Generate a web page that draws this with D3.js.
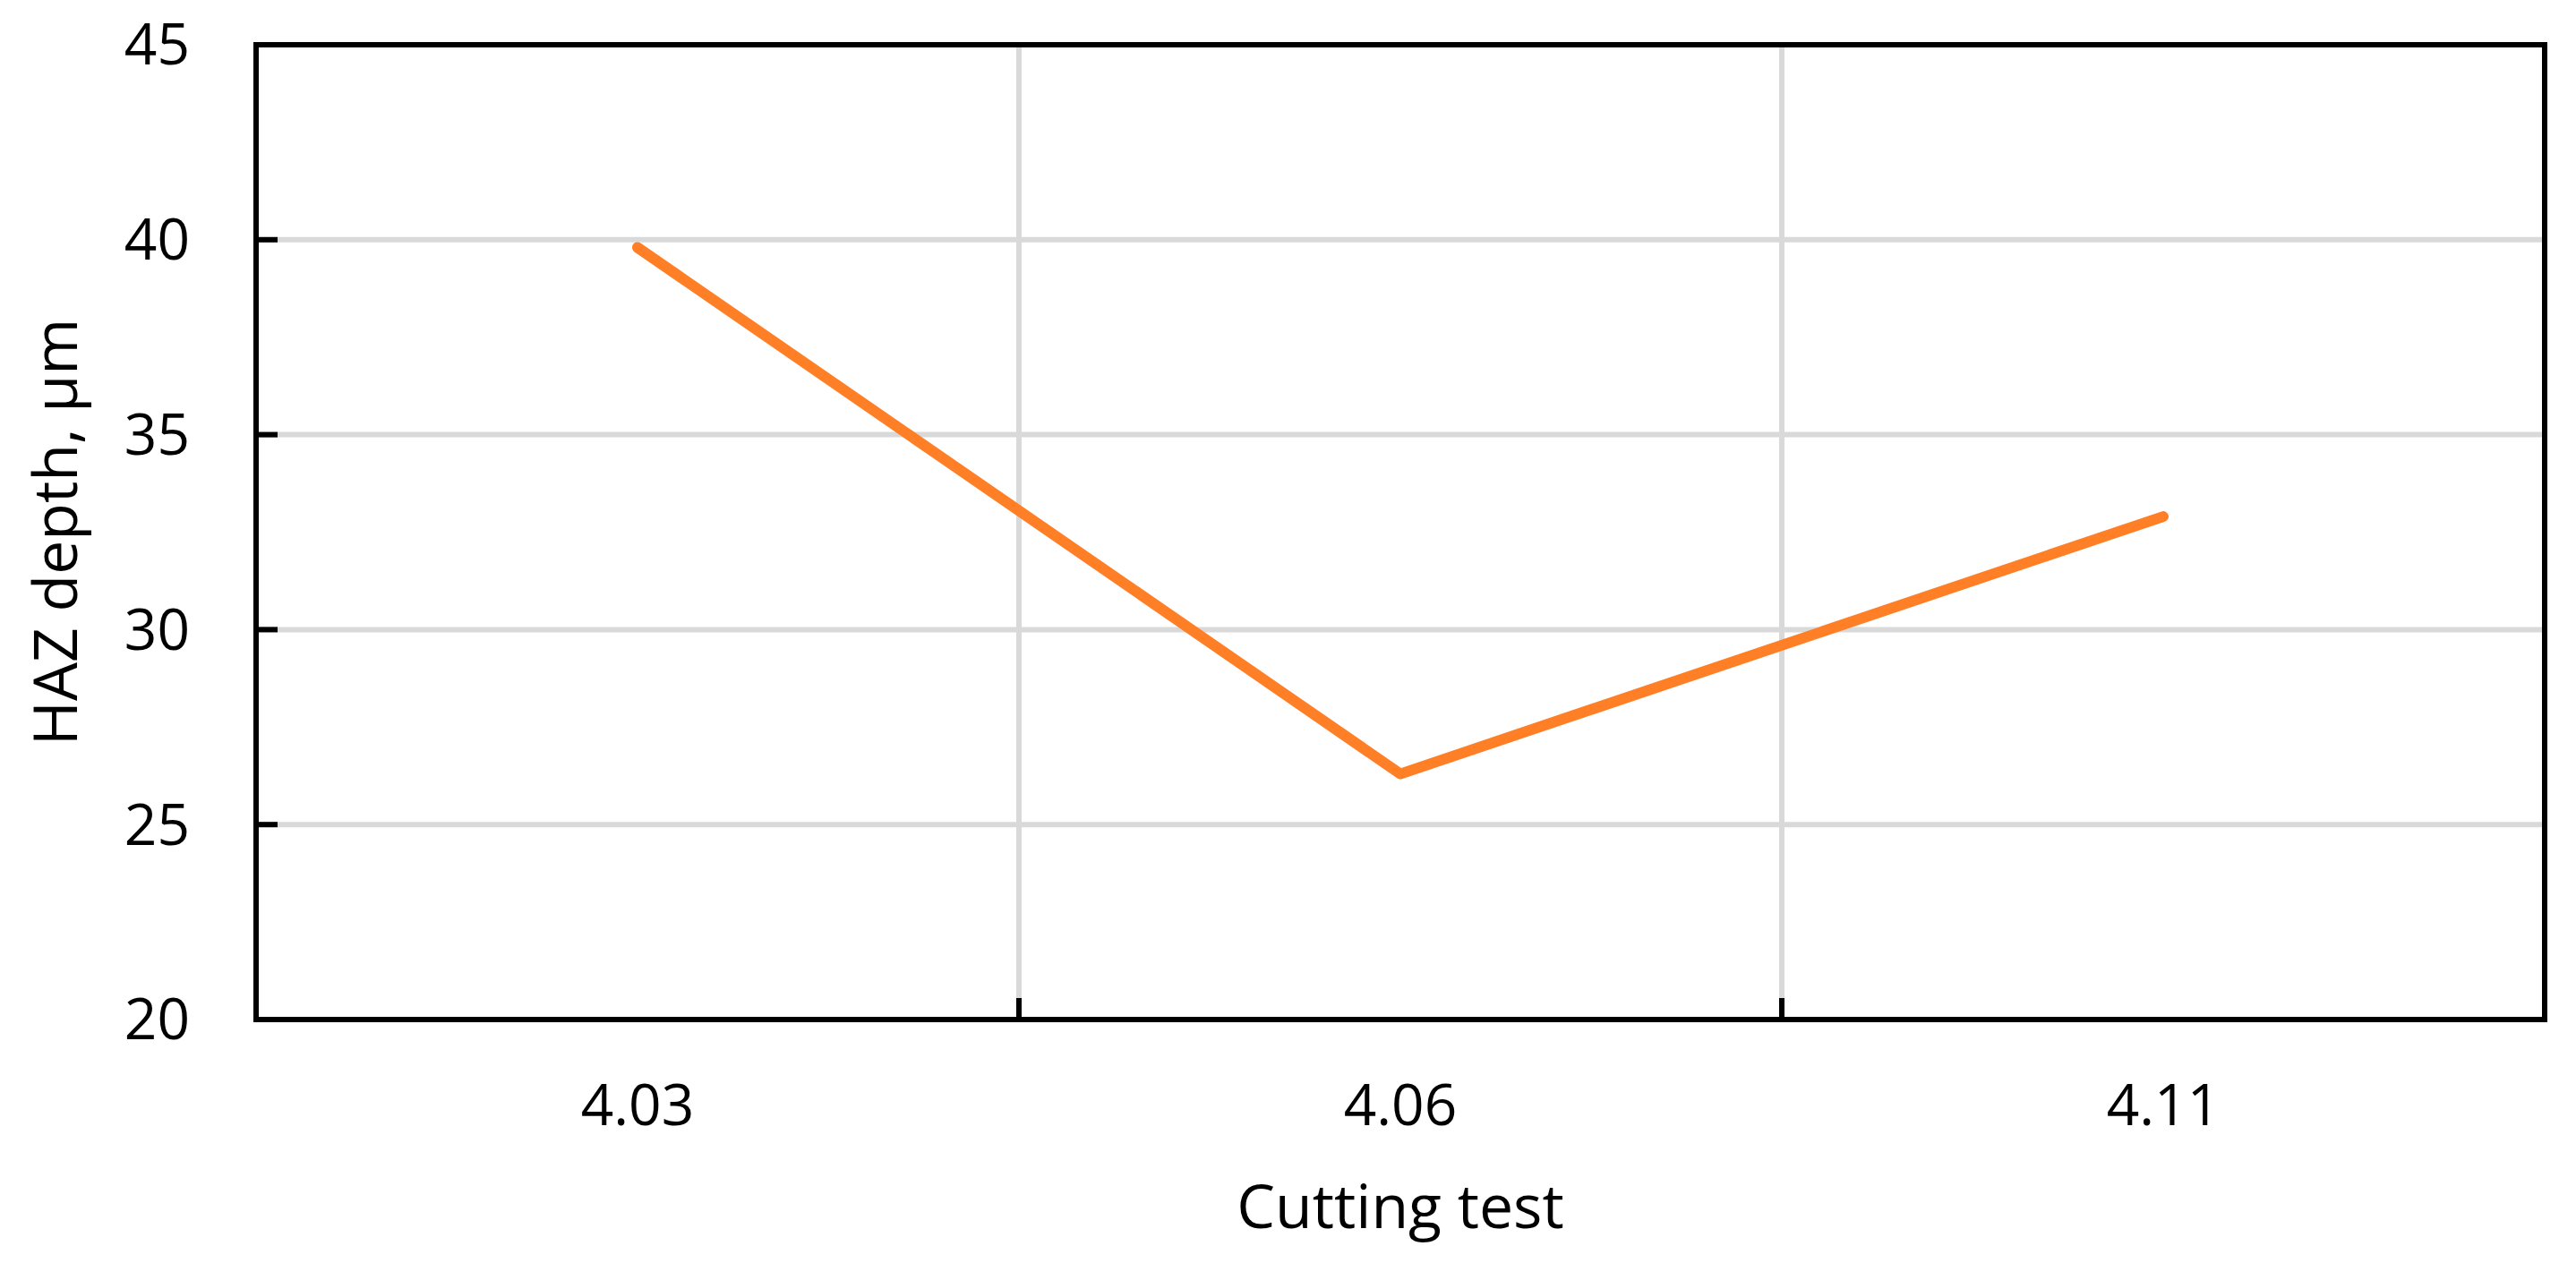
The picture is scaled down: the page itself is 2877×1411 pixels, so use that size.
<!DOCTYPE html>
<html>
<head>
<meta charset="utf-8">
<script src="https://cdn.jsdelivr.net/npm/d3@7"></script>
<style>
  body { margin: 0; background: #fff; }
  text { font-family: "Liberation Sans Narrow", "Open Sans", sans-serif; fill: #000; }
</style>
</head>
<body>
<div id="chart"></div>
<script>
const categories = ["4.03", "4.06", "4.11"];
const hazDepth = [39.8, 26.3, 32.9];
const yTicks = [20, 25, 30, 35, 40, 45];

const W = 2877, H = 1411;
const margin = { top: 50, right: 35, bottom: 272, left: 286 };
const width = W - margin.left - margin.right;
const height = H - margin.top - margin.bottom;

const svg = d3.select("#chart").append("svg")
  .attr("width", W).attr("height", H);
const g = svg.append("g")
  .attr("transform", `translate(${margin.left},${margin.top})`);

const x = d3.scaleBand().domain(categories).range([0, width]);
const y = d3.scaleLinear().domain([20, 45]).range([height, 0]);

// Gridlines
g.selectAll(".hgrid").data(yTicks.slice(1, -1)).enter().append("line")
  .attr("x1", 0).attr("x2", width)
  .attr("y1", d => y(d)).attr("y2", d => y(d))
  .attr("stroke", "#d9d9d9").attr("stroke-width", 6);
const bounds = categories.slice(1).map(c => x(c));
g.selectAll(".vgrid").data(bounds).enter().append("line")
  .attr("x1", d => d).attr("x2", d => d)
  .attr("y1", 0).attr("y2", height)
  .attr("stroke", "#d9d9d9").attr("stroke-width", 6);

// Inward tick marks
g.selectAll(".ytk").data(yTicks.slice(1, -1)).enter().append("line")
  .attr("x1", 0).attr("x2", 24)
  .attr("y1", d => y(d)).attr("y2", d => y(d))
  .attr("stroke", "#000").attr("stroke-width", 6);
g.selectAll(".xtk").data(bounds).enter().append("line")
  .attr("x1", d => d).attr("x2", d => d)
  .attr("y1", height).attr("y2", height - 24)
  .attr("stroke", "#000").attr("stroke-width", 6);

// Frame
g.append("rect").attr("width", width).attr("height", height)
  .attr("fill", "none").attr("stroke", "#000").attr("stroke-width", 6);

// Line
const line = d3.line()
  .x((d, i) => x(categories[i]) + x.bandwidth() / 2)
  .y(d => y(d));
g.append("path").datum(hazDepth)
  .attr("fill", "none").attr("stroke", "#ff7f27")
  .attr("stroke-width", 12).attr("stroke-linecap", "round")
  .attr("stroke-linejoin", "round").attr("d", line);

// Y tick labels
g.selectAll(".ylab").data(yTicks).enter().append("text")
  .attr("x", -74).attr("y", d => y(d)).attr("dy", "0.35em")
  .attr("text-anchor", "end").style("font-size", "64px")
  .text(d => d);

// X tick labels
g.selectAll(".xlab").data(categories).enter().append("text")
  .attr("x", d => x(d) + x.bandwidth() / 2).attr("y", height + 118)
  .attr("text-anchor", "middle").style("font-size", "64px")
  .text(d => d);

// Axis titles
svg.append("text")
  .attr("x", margin.left + width / 2).attr("y", 1372)
  .attr("text-anchor", "middle").style("font-size", "68px")
  .text("Cutting test");
svg.append("text")
  .attr("transform", `translate(86,${margin.top + height / 2}) rotate(-90)`)
  .attr("text-anchor", "middle").style("font-size", "68px")
  .text("HAZ depth, µm");
</script>
</body>
</html>
